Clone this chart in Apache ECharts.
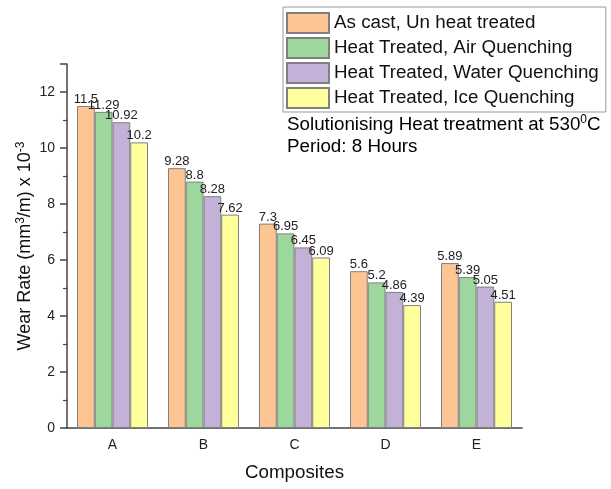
<!DOCTYPE html>
<html>
<head>
<meta charset="utf-8">
<script src="https://cdn.jsdelivr.net/npm/echarts@6/dist/echarts.min.js"></script>
<style>html,body{margin:0;padding:0;background:#fff}#c{width:611px;height:489px}</style>
</head>
<body>
<div id="c"></div>
<script>
var categories = ['A', 'B', 'C', 'D', 'E'];
var seriesNames = ['As cast, Un heat treated', 'Heat Treated, Air Quenching', 'Heat Treated, Water Quenching', 'Heat Treated, Ice Quenching'];
var asCast = [11.5, 9.28, 7.3, 5.6, 5.89];
var airQuench = [11.29, 8.8, 6.95, 5.2, 5.39];
var waterQuench = [10.92, 8.28, 6.45, 4.86, 5.05];
var iceQuench = [10.2, 7.62, 6.09, 4.39, 4.51];
var colors = ['#FDC594', '#9ED79E', '#C3B1D8', '#FFFF9C'];

var font = 'Liberation Sans, Arial, sans-serif';
var values = [asCast, airQuench, waterQuench, iceQuench];
var series = values.map(function (v, i) {
  return {
    name: seriesNames[i], type: 'bar', data: v, xAxisIndex: 0,
    barGap: '0%', barCategoryGap: '22%',
    itemStyle: { color: colors[i], borderColor: '#808080', borderWidth: 1 },
    label: { show: true, position: 'top', distance: 0, fontFamily: font, fontSize: 13, color: '#222' }
  };
});

var chart = echarts.init(document.getElementById('c'), null, { renderer: 'canvas' });
chart.setOption({
  animation: false,
  textStyle: { fontFamily: font },
  grid: { left: 67, right: 89, top: 64, bottom: 61, outerBoundsMode: 'none' },
  legend: {
    orient: 'vertical', left: 283, top: 7, itemWidth: 42, itemHeight: 20, itemGap: 3,
    padding: [5, 7, 3, 3], borderColor: '#999', borderWidth: 1, icon: 'rect',
    textStyle: { fontFamily: font, fontSize: 18.8, color: '#111' },
    data: seriesNames
  },
  xAxis: [{
    type: 'category', data: categories, position: 'bottom',
    name: 'Composites', nameLocation: 'middle', nameGap: 35,
    nameTextStyle: { fontFamily: font, fontSize: 18.8, color: '#111' },
    axisLine: { lineStyle: { color: '#444', width: 1.5 } },
    axisTick: { alignWithLabel: true, length: 6, lineStyle: { color: '#444', width: 1.5 } },
    axisLabel: { fontFamily: font, fontSize: 14, color: '#222', margin: 10 }
  }, {
    type: 'category', data: categories, position: 'bottom',
    axisLine: { show: false },
    axisTick: { alignWithLabel: false, length: 3, lineStyle: { color: '#444', width: 1.5 } },
    axisLabel: { show: false }
  }],
  yAxis: {
    type: 'value', min: 0, max: 13, interval: 2,
    name: '{a|Wear Rate (mm}{s|3}{a|/m) x 10}{s|-3}', nameLocation: 'middle', nameGap: 31, nameRotate: 90,
    nameMoveOverlap: false,
    nameTextStyle: {
      rich: {
        a: { fontFamily: font, fontSize: 18, color: '#111' },
        s: { fontFamily: font, fontSize: 12, color: '#111', padding: [0, 0, 9, 0] }
      }
    },
    axisLine: { show: true, lineStyle: { color: '#444', width: 1.5 } },
    axisTick: { show: true, length: 7, lineStyle: { color: '#444', width: 1.5 } },
    minorTick: { show: true, splitNumber: 2, length: 4, lineStyle: { color: '#444', width: 1.2 } },
    splitLine: { show: false },
    axisLabel: {
      fontFamily: font, fontSize: 14, color: '#222', margin: 12,
      formatter: function (v) { return v > 12 ? '' : String(v); }
    }
  },
  graphic: [{
    type: 'text', left: 287, top: 114,
    style: {
      text: '{a|Solutionising Heat treatment at 530}{s|0}{a|C}\n{a|Period: 8 Hours}',
      rich: {
        a: { fontFamily: font, fontSize: 18.8, color: '#111', lineHeight: 22 },
        s: { fontFamily: font, fontSize: 12, color: '#111', lineHeight: 22, padding: [0, 0, 9, 0] }
      }
    }
  }],
  series: series
});
</script>
</body>
</html>
